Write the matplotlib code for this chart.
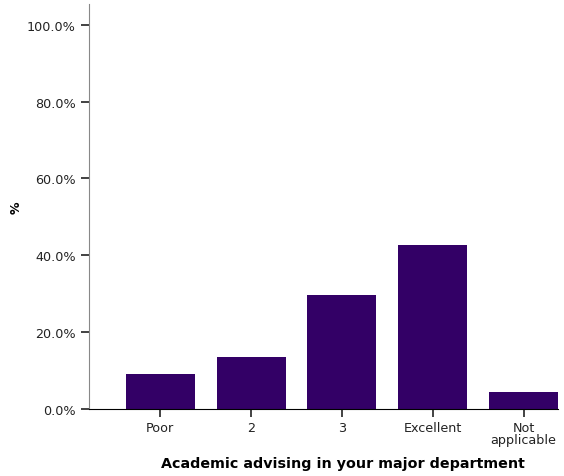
import matplotlib
matplotlib.use("Agg")
import matplotlib.pyplot as plt
from matplotlib.ticker import FuncFormatter

categories = ["Poor", "2", "3", "Excellent", "Not\napplicable"]
values = [9.1, 13.6, 29.7, 42.8, 4.4]
yticks = [0, 20, 40, 60, 80, 100]

plt.rcParams['font.family'] = ['DejaVu Sans']
fig = plt.figure(figsize=(5.64, 4.77), dpi=100)
ax = fig.add_axes([89/564, 1-410/477, (558-89)/564, (410-5)/477])
x = range(len(categories))
ax.bar(x, values, width=0.76, color="#330066")
ax.set_xlim(-0.786, 4.38)
ax.set_ylim(0, 105.4)
ax.set_yticks(yticks)
ax.yaxis.set_major_formatter(FuncFormatter(lambda v, p: f"{v:.1f}%"))
ax.set_xticks(list(x))
ax.set_xticklabels(categories, linespacing=0.85)
for s in ["top", "right"]:
    ax.spines[s].set_visible(False)
ax.spines["left"].set_color("#888888")
ax.spines["bottom"].set_color("#000000")
ax.tick_params(axis="both", length=6, width=1.2, color="#222222", labelsize=9.2, labelcolor="#222222")
ax.tick_params(axis="x", pad=3)
ax.set_xlabel("Academic advising in your major department", fontsize=10.3, fontweight="bold")
ax.xaxis.set_label_coords((343-89)/(558-89), -(457-410)/405)
ax.set_ylabel("%", fontsize=9, fontweight="bold")
ax.yaxis.set_label_coords(-(89-23)/(558-89), (410-208)/405)
fig.savefig("out.png", dpi=100)
